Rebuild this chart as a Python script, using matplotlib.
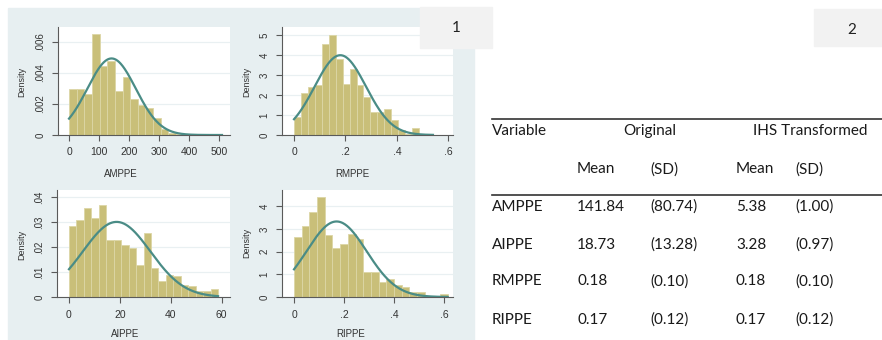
import numpy as np
import matplotlib
matplotlib.use('Agg')
import matplotlib.pyplot as plt
from matplotlib.patches import Rectangle
from matplotlib.lines import Line2D

W, H = 882, 340

# histogram densities (20 equal bins each, starting at 0)
amppe_dens = [.00295, .0030, .00265, .0065, .00447, .00478, .00284, .00372, .00232, .00194,
              .00176, .00108, .00037, .00015, .00007, .00005, .00005, 0, 0, .00007]
rmppe_dens = [.9, 2.12, 2.42, 2.5, 4.53, 5.02, 3.8, 2.57, 3.32, 2.5,
              1.92, 1.17, 1.17, 1.29, .73, .25, .07, .37, .07, .05]
aippe_dens = [.0283, .031, .0358, .0317, .0368, .023, .023, .0207, .0198, .0127,
              .0256, .0117, .0065, .0087, .0084, .005, .0043, .0023, .0024, .0032]
rippe_dens = [2.63, 3.13, 3.75, 4.41, 2.74, 2.15, 2.32, 2.79, 2.55, 1.1,
              1.1, .68, .8, .55, .44, .22, .22, 0, 0, .15]
bin_width = {'AMPPE': 25.5, 'RMPPE': .027, 'AIPPE': 2.93, 'RIPPE': .0307}

# table values
variables = ['AMPPE', 'AIPPE', 'RMPPE', 'RIPPE']
orig_mean = ['141.84', '18.73', '0.18', '0.17']
orig_sd = ['(80.74)', '(13.28)', '(0.10)', '(0.12)']
ihs_mean = ['5.38', '3.28', '0.18', '0.17']
ihs_sd = ['(1.00)', '(0.97)', '(0.10)', '(0.12)']
means = {'AMPPE': 141.84, 'AIPPE': 18.73, 'RMPPE': 0.18, 'RIPPE': 0.17}
sds = {'AMPPE': 80.74, 'AIPPE': 13.28, 'RMPPE': 0.10, 'RIPPE': 0.12}

# tick values / labels
amppe_xt = [0, 100, 200, 300, 400, 500]
amppe_yt = [0, .002, .004, .006]
amppe_ytl = ['0', '.002', '.004', '.006']
rmppe_xt = [0, .2, .4, .6]
rmppe_xtl = ['0', '.2', '.4', '.6']
rmppe_yt = [0, 1, 2, 3, 4, 5]
aippe_xt = [0, 20, 40, 60]
aippe_yt = [0, .01, .02, .03, .04]
aippe_ytl = ['0', '.01', '.02', '.03', '.04']
rippe_yt = [0, 1, 2, 3, 4]

BG = '#e7eff1'
BAR = '#c9bf79'
CURVE = '#4a8c86'
AX = '#5a5a5a'


def fx(x):
    return x / W


def fy(y):
    return 1 - y / H


fig = plt.figure(figsize=(W / 100, H / 100), dpi=100)
fig.patches.append(Rectangle((fx(8), fy(340)), fx(474) - fx(8), fy(8) - fy(340),
                             transform=fig.transFigure, color=BG, zorder=-10))

plot_font = ['Liberation Sans', 'DejaVu Sans']


def panel(box, name, dens, xlim, ylim, xt, xtl, yt, ytl, ylab_xy, xlab_xy):
    l, r, t, b = box
    ax = fig.add_axes([fx(l), fy(b), fx(r) - fx(l), fy(t) - fy(b)])
    w = bin_width[name]
    lefts = np.arange(len(dens)) * w
    ax.bar(lefts, dens, width=w, align='edge', color=BAR, edgecolor='#dcd6a6',
           linewidth=0.6, zorder=2)
    xs = np.linspace(0, len(dens) * w, 300)
    m, s = means[name], sds[name]
    ax.plot(xs, np.exp(-0.5 * ((xs - m) / s) ** 2) / (s * np.sqrt(2 * np.pi)),
            color=CURVE, lw=1.6, zorder=3)
    ax.set_xlim(*xlim)
    ax.set_ylim(*ylim)
    ax.set_xticks(xt)
    ax.set_xticklabels(xtl, family=plot_font, fontsize=7.5, color='#333333')
    ax.set_yticks(yt)
    ax.set_yticklabels(ytl, family=plot_font, fontsize=7, color='#333333',
                       rotation=90, va='center')
    ax.tick_params(axis='both', length=4, width=0.8, color=AX, pad=5)
    ax.grid(axis='y', color='#e9f0f2', lw=0.9)
    ax.set_axisbelow(True)
    for sp in ['top', 'right']:
        ax.spines[sp].set_visible(False)
    for sp in ['left', 'bottom']:
        ax.spines[sp].set_color(AX)
        ax.spines[sp].set_linewidth(0.8)
    fig.text(fx(ylab_xy[0]), fy(ylab_xy[1]), 'Density', rotation=90, ha='center',
             va='center', fontsize=6.5, family=plot_font, color='#333333')
    fig.text(fx(xlab_xy[0]), fy(xlab_xy[1]), name, ha='center', va='center',
             fontsize=7, family=plot_font, color='#333333')
    return ax


panel((58, 230, 27, 135), 'AMPPE', amppe_dens, (-36.7, 536.7), (0, .00697),
      amppe_xt, [str(v) for v in amppe_xt], amppe_yt, amppe_ytl, (22, 82), (121, 174))
panel((282, 453, 27, 135), 'RMPPE', rmppe_dens, (-.0467, .618), (0, 5.4),
      rmppe_xt, rmppe_xtl, rmppe_yt, [str(v) for v in rmppe_yt], (247, 82), (352, 174))
panel((57, 230, 190, 297), 'AIPPE', aippe_dens, (-4.7, 63.3), (0, .0428),
      aippe_xt, [str(v) for v in aippe_xt], aippe_yt, aippe_ytl, (22, 245), (125, 334))
panel((282, 453, 190, 297), 'RIPPE', rippe_dens, (-.048, .635), (0, 4.71),
      rmppe_xt, rmppe_xtl, rippe_yt, [str(v) for v in rippe_yt], (247, 243), (351, 334))

# panel number boxes
for (x0, y0, x1, y1), lab, cx, cy in [((420, 7, 492, 48), '1', 456, 28),
                                       ((814, 9, 882, 46), '2', 852, 30)]:
    fig.patches.append(Rectangle((fx(x0), fy(y1)), fx(x1) - fx(x0), fy(y0) - fy(y1),
                                 transform=fig.transFigure, color='#f2f2f2', zorder=5))
    fig.text(fx(cx), fy(cy), lab, ha='center', va='center', fontsize=11,
             family=['Lato', 'DejaVu Sans'], color='#222222', zorder=6)

# table
tf = dict(fontsize=11, family=['Lato', 'DejaVu Sans'], color='#1a1a1a', va='baseline')
for yy in (119, 194.5):
    fig.lines.append(Line2D([fx(492), fx(882)], [fy(yy), fy(yy)], transform=fig.transFigure,
                            color='#333333', lw=1.2))
fig.text(fx(492), fy(135), 'Variable', ha='left', **tf)
fig.text(fx(649.5), fy(135), 'Original', ha='center', **tf)
fig.text(fx(810.5), fy(135), 'IHS Transformed', ha='center', **tf)
col_x = [577, 650, 736, 795]
for x, lab in zip(col_x, ['Mean', '(SD)', 'Mean', '(SD)']):
    fig.text(fx(x), fy(173.3), lab, ha='left', **tf)
row_y = [211, 248.7, 285.3, 323.7]
for i, yy in enumerate(row_y):
    vals = [variables[i], orig_mean[i], orig_sd[i], ihs_mean[i], ihs_sd[i]]
    for x, v in zip([492] + col_x, vals):
        fig.text(fx(x), fy(yy), v, ha='left', **tf)

fig.savefig('out.png', dpi=100)
